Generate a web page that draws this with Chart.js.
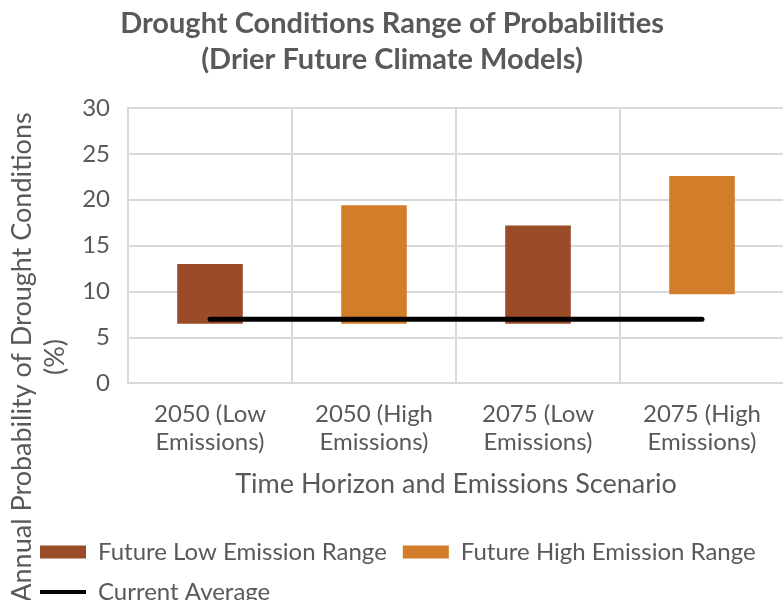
<!DOCTYPE html>
<html>
<head>
<meta charset="utf-8">
<script src="https://cdn.jsdelivr.net/npm/chart.js@4/dist/chart.umd.min.js"></script>
<style>
  html, body { margin: 0; padding: 0; overflow: hidden; background: #ffffff; }
  #wrap { position: absolute; left: 0; top: 0; width: 800px; height: 614px; }
</style>
</head>
<body>
<div id="wrap"><canvas id="c"></canvas></div>
<script>
// ---- data ----
const categories = [
  ["2050 (Low", "Emissions)"],
  ["2050 (High", "Emissions)"],
  ["2075 (Low", "Emissions)"],
  ["2075 (High", "Emissions)"]
];
const lowEmissionRange  = [[6.5, 13.0], null, [6.5, 17.2], null];
const highEmissionRange = [null, [6.5, 19.4], null, [9.7, 22.6]];
const currentAverage    = [7, 7, 7, 7];
const yTicks = [0, 5, 10, 15, 20, 25, 30];

const titleLines  = ["Drought Conditions Range of Probabilities", "(Drier Future Climate Models)"];
const xTitle      = "Time Horizon and Emissions Scenario";
const yTitleLines = ["Annual Probability of Drought Conditions", "(%)"];
const seriesNames = ["Future Low Emission Range", "Future High Emission Range", "Current Average"];

const TEXT = '#595959';
const GRID = '#D9D9D9';
Chart.defaults.font.family = 'Lato, "Open Sans", sans-serif';
Chart.defaults.color = TEXT;

const yTitlePlugin = {
  id: 'yTitle',
  afterLayout(chart) {
    // legend rows start further right than the plot's left edge
    if (chart.legend) chart.legend.left += 24;
  },
  afterDraw(chart) {
    const ctx = chart.ctx;
    ctx.save();
    ctx.translate(22, 357);
    ctx.rotate(-Math.PI / 2);
    ctx.textAlign = 'center';
    ctx.textBaseline = 'middle';
    ctx.fillStyle = TEXT;
    ctx.font = '27px Lato, "Open Sans", sans-serif';
    ctx.fillText(yTitleLines[0], 0, 0);
    ctx.fillText(yTitleLines[1], 0, 33);
    ctx.restore();
  }
};

new Chart(document.getElementById('c'), {
  type: 'bar',
  data: {
    labels: categories,
    datasets: [
      {
        label: seriesNames[0],
        data: lowEmissionRange,
        backgroundColor: '#9A4B28',
        grouped: false,
        categoryPercentage: 0.8,
        barPercentage: 0.5,
        order: 2
      },
      {
        label: seriesNames[1],
        data: highEmissionRange,
        backgroundColor: '#D27D2A',
        grouped: false,
        categoryPercentage: 0.8,
        barPercentage: 0.5,
        order: 3
      },
      {
        type: 'line',
        label: seriesNames[2],
        data: currentAverage,
        borderColor: '#000000',
        backgroundColor: '#000000',
        borderWidth: 5,
        borderCapStyle: 'round',
        pointRadius: 0,
        order: 1
      }
    ]
  },
  plugins: [yTitlePlugin],
  options: {
    responsive: true,
    maintainAspectRatio: false,
    animation: false,
    layout: { padding: { left: 0, right: 16, top: 0, bottom: 0 } },
    plugins: {
      tooltip: { enabled: false },
      title: {
        display: true,
        text: titleLines,
        color: TEXT,
        font: { size: 29, weight: 'bold', lineHeight: 1.24 },
        padding: { top: 6, bottom: 30 }
      },
      legend: {
        position: 'bottom',
        align: 'start',
        labels: {
          color: TEXT,
          font: { size: 24 },
          padding: 16,
          usePointStyle: true,
          pointStyleWidth: 46,
          boxHeight: 13,
          sort: (a, b) => a.datasetIndex - b.datasetIndex,
          generateLabels(chart) {
            const items = Chart.defaults.plugins.legend.labels.generateLabels(chart);
            return items.map(it => {
              if (it.datasetIndex === 2) {
                it.pointStyle = 'line';
                it.lineWidth = 4;
                it.strokeStyle = '#000000';
                it.fillStyle = '#000000';
              } else {
                it.pointStyle = 'rect';
                it.lineWidth = 0;
              }
              return it;
            });
          }
        }
      }
    },
    scales: {
      x: {
        grid: { color: GRID, lineWidth: 2, drawTicks: false },
        border: { color: GRID, width: 2 },
        ticks: { color: TEXT, font: { size: 24, lineHeight: 1.17 }, padding: 17, maxRotation: 0 },
        title: {
          display: true,
          text: xTitle,
          color: TEXT,
          font: { size: 27, lineHeight: 1.2 },
          padding: { top: -6, bottom: 24 }
        }
      },
      y: {
        min: 0,
        max: 30,
        afterFit(scale) { scale.width = 128; },
        afterBuildTicks(scale) { scale.ticks = yTicks.map(v => ({ value: v })); },
        grid: { color: GRID, lineWidth: 2, drawTicks: false },
        border: { color: GRID, width: 2 },
        ticks: { color: TEXT, font: { size: 24 }, padding: 18 }
      }
    }
  }
});
</script>
</body>
</html>
